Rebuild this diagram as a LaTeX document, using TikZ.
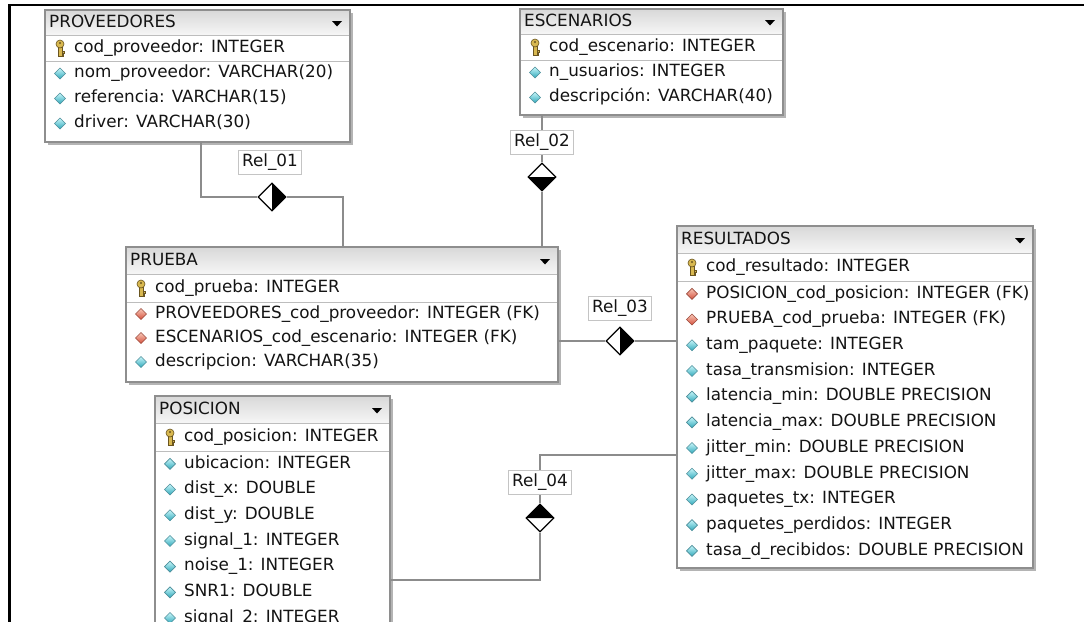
\documentclass[tikz,border=0pt]{standalone}
\usepackage{fontspec}
\setmainfont{DejaVu Sans}
\usetikzlibrary{shapes.geometric,calc}
\definecolor{bordergray}{HTML}{8E8E8E}
\definecolor{shadowgray}{HTML}{B4B4B4}
\definecolor{hdrtop}{HTML}{D8D8D8}
\definecolor{hdrbot}{HTML}{F6F6F6}
\definecolor{sepgray}{HTML}{BDBDBD}
\definecolor{conngray}{HTML}{8C8C8C}
\definecolor{labelgray}{HTML}{C4C4C4}
\definecolor{cyanlight}{HTML}{C8F6FA}
\definecolor{cyandark}{HTML}{2FA8BA}
\definecolor{cyanedge}{HTML}{4C8E9A}
\definecolor{redlight}{HTML}{F8C8B8}
\definecolor{reddark}{HTML}{D4503C}
\definecolor{rededge}{HTML}{9C4A3C}
\definecolor{keygold}{HTML}{D8B850}
\definecolor{keyedge}{HTML}{6A5520}
\definecolor{txt}{HTML}{141414}

\tikzset{
  every node/.style={font=\fontsize{16.8}{19}\selectfont, text=txt},
  rowtext/.style={anchor=west, inner sep=0pt, text height=12pt, text depth=3.5pt},
  tbl/.style={fill=white, inner sep=0pt, outer sep=0pt},
  tblborder/.style={draw=bordergray, line width=1.2pt},
  conn/.style={draw=conngray, line width=1.1pt},
  rellabel/.style={draw=labelgray, fill=white, line width=0.8pt, inner xsep=4pt, inner ysep=0pt,
    minimum height=24pt, text height=12pt, text depth=3.5pt},
  reldia/.style={diamond, draw=black, fill=white, line width=1.3pt, minimum width=28pt,
    minimum height=28pt, inner sep=0pt, aspect=1},
  rightblack/.style={path picture={\fill[black] (path picture bounding box.north) -- (path picture bounding box.east) -- (path picture bounding box.south) -- cycle;}},
  bottomblack/.style={path picture={\fill[black] (path picture bounding box.west) -- (path picture bounding box.south) -- (path picture bounding box.east) -- cycle;}},
  topblack/.style={path picture={\fill[black] (path picture bounding box.west) -- (path picture bounding box.north) -- (path picture bounding box.east) -- cycle;}},
  pics/cdia/.style={code={\shade[top color=cyanlight, bottom color=cyandark, draw=cyanedge, line width=0.6pt] (-5.5,0) -- (0,-5.5) -- (5.5,0) -- (0,5.5) -- cycle;}},
  pics/rdia/.style={code={\shade[top color=redlight, bottom color=reddark, draw=rededge, line width=0.6pt] (-5.5,0) -- (0,-5.5) -- (5.5,0) -- (0,5.5) -- cycle;}},
  pics/keyicon/.style={code={
    \filldraw[fill=keygold, draw=keyedge, line width=0.6pt] (-1.8,-1) rectangle (1.8,8);
    \filldraw[fill=keygold, draw=keyedge, line width=0.6pt] (1.8,3.5) rectangle (4,5);
    \filldraw[fill=keygold, draw=keyedge, line width=0.6pt] (1.8,6.3) rectangle (3.6,7.8);
    \filldraw[fill=keygold, draw=keyedge, line width=0.6pt] (0,-4) circle (4pt);
    \fill[keyedge] (0,-5) circle (1.2pt);}},
  pics/droparrow/.style={code={\fill[black] (-5,-2.5) -- (5,-2.5) -- (0,3) -- cycle;}},
}

% #1 name, #2 title, #3 L, #4 R, #5 T, #6 B, #7 key text, #8 attr list (type/text)
\newcommand\erdtable[8]{%
  \pgfmathsetmacro\tw{#4-#3}%
  \pgfmathsetmacro\th{#6-#5}%
  \pgfmathsetmacro\ya{#5+\erdhdr}%
  \pgfmathsetmacro\yb{#5+\erdhdr+\erdkey}%
  \pgfmathsetmacro\yh{#5+\erdhdr/2+1}%
  \pgfmathsetmacro\yk{#5+\erdhdr+\erdkey/2}%
  \fill[shadowgray] (#3+2.5,#5+2.5) rectangle (#4+2.5,#6+2.5);
  \node[tbl, minimum width=\tw pt, minimum height=\th pt, anchor=north west] (#1) at (#3,#5) {};
  \shade[top color=hdrtop, bottom color=hdrbot] (#3,#5) rectangle (#4,\ya);
  \draw[sepgray, line width=0.8pt] (#3,\ya) -- (#4,\ya);
  \draw[sepgray, line width=0.8pt] (#3,\yb) -- (#4,\yb);
  \node[rowtext] (#1-title) at (#3+4,\yh) {#2};
  \pic at (#4-13,\yh) {droparrow};
  \pic at (#3+15,\yk) {keyicon};
  \node[rowtext] (#1-key) at (#3+29,\yk) {#7};
  \foreach [count=\i] \ty/\tx in {#8} {
    \pgfmathsetmacro\yy{\yb+(\i-0.5)*\erdpitch}
    \ifnum\ty=1 \pic at (#3+15,\yy) {rdia};\else \pic at (#3+15,\yy) {cdia};\fi
    \node[rowtext] at (#3+29,\yy) {\tx};
  }
  \draw[tblborder] (#1.north west) rectangle (#1.south east);
}

\begin{document}
\begin{tikzpicture}[x=1pt,y=-1pt]
\useasboundingbox (0,0) rectangle (1084,621);
\clip (0,0) rectangle (1084,621);
\fill[white] (0,0) rectangle (1084,621);
\draw[black, line width=2.5pt] (1090,5) -- (9.5,5) -- (9.5,630);

% tables
\def\erdhdr{25}\def\erdkey{26}\def\erdpitch{25}
\erdtable{prov}{PROVEEDORES}{45}{350}{10}{142}{cod\_proveedor: INTEGER}
  {0/nom\_proveedor: VARCHAR(20),0/referencia: VARCHAR(15),0/driver: VARCHAR(30)}
\erdtable{esc}{ESCENARIOS}{520}{783}{9}{115}{cod\_escenario: INTEGER}
  {0/n\_usuarios: INTEGER,0/descripción: VARCHAR(40)}
\def\erdhdr{27}\def\erdkey{28}\def\erdpitch{24}
\erdtable{prueba}{PRUEBA}{126}{558}{247}{382}{cod\_prueba: INTEGER}
  {1/PROVEEDORES\_cod\_proveedor: INTEGER (FK),1/ESCENARIOS\_cod\_escenario: INTEGER (FK),0/descripcion: VARCHAR(35)}
\def\erdpitch{25.7}
\erdtable{res}{RESULTADOS}{677}{1033}{226}{568}{cod\_resultado: INTEGER}
  {1/POSICION\_cod\_posicion: INTEGER (FK),1/PRUEBA\_cod\_prueba: INTEGER (FK),0/tam\_paquete: INTEGER,0/tasa\_transmision: INTEGER,0/latencia\_min: DOUBLE PRECISION,0/latencia\_max: DOUBLE PRECISION,0/jitter\_min: DOUBLE PRECISION,0/jitter\_max: DOUBLE PRECISION,0/paquetes\_tx: INTEGER,0/paquetes\_perdidos: INTEGER,0/tasa\_d\_recibidos: DOUBLE PRECISION}
\erdtable{posi}{POSICION}{155}{390}{396}{720}{cod\_posicion: INTEGER}
  {0/ubicacion: INTEGER,0/dist\_x: DOUBLE,0/dist\_y: DOUBLE,0/signal\_1: INTEGER,0/noise\_1: INTEGER,0/SNR1: DOUBLE,0/signal\_2: INTEGER}

% relationship diamonds
\node[reldia, rightblack] (d1) at (272,197) {};
\node[reldia, bottomblack] (d2) at (542,177) {};
\node[reldia, rightblack] (d3) at (620,341) {};
\node[reldia, topblack] (d4) at (540,518) {};

\coordinate (x1) at (201,0);
\coordinate (x2) at (343,0);
\coordinate (x3) at (542,0);
\coordinate (y4a) at (0,580);
\coordinate (y4b) at (0,455);

% connectors
\draw[conn] (prov.south -| x1) |- (d1.west);
\draw[conn] (d1.east) -| (prueba.north -| x2);
\draw[conn] (esc.south -| x3) -- (d2.north);
\draw[conn] (d2.south) -- (prueba.north -| x3);
\draw[conn] (prueba.east |- d3) -- (d3.west);
\draw[conn] (d3.east) -- (res.west |- d3);
\draw[conn] (posi.east |- y4a) -| (d4.south);
\draw[conn] (d4.north) |- (res.west |- y4b);

% labels
\node[rellabel] (r1) at (270,162) {Rel\_01};
\node[rellabel] (r2) at (542,142) {Rel\_02};
\node[rellabel] (r3) at (620,308) {Rel\_03};
\node[rellabel] (r4) at (540,482) {Rel\_04};
\end{tikzpicture}
\end{document}
